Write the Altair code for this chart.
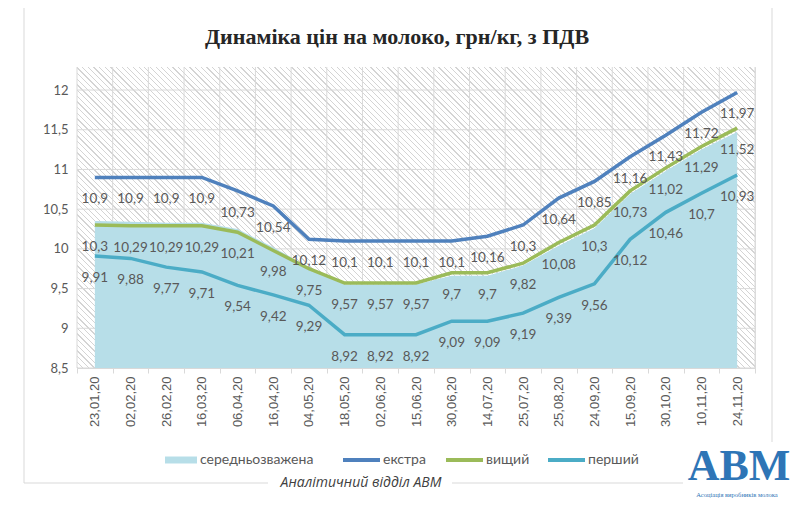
import math
import altair as alt
import pandas as pd

# ---------------- data ----------------
dates = ["23,01,20", "02,02,20", "26,02,20", "16,03,20", "06,04,20", "16,04,20",
         "04,05,20", "18,05,20", "02,06,20", "15,06,20", "30,06,20", "14,07,20",
         "25,07,20", "25,08,20", "24,09,20", "15,09,20", "30,10,20", "10,11,20",
         "24,11,20"]
avg_vals = [10.35, 10.34, 10.33, 10.33, 10.25, 10.02, 9.77, 9.55, 9.55, 9.55,
            9.66, 9.66, 9.79, 10.04, 10.26, 10.69, 10.98, 11.25, 11.47]
extra_vals = [10.9, 10.9, 10.9, 10.9, 10.73, 10.54, 10.12, 10.1, 10.1, 10.1,
              10.1, 10.16, 10.3, 10.64, 10.85, 11.16, 11.43, 11.72, 11.97]
higher_vals = [10.3, 10.29, 10.29, 10.29, 10.21, 9.98, 9.75, 9.57, 9.57, 9.57,
               9.7, 9.7, 9.82, 10.08, 10.3, 10.73, 11.02, 11.29, 11.52]
first_vals = [9.91, 9.88, 9.77, 9.71, 9.54, 9.42, 9.29, 8.92, 8.92, 8.92,
              9.09, 9.09, 9.19, 9.39, 9.56, 10.12, 10.46, 10.7, 10.93]
series_names = ["середньозважена", "екстра", "вищий", "перший"]
series_colors = ["#b7dee8", "#4f81bd", "#9bbb59", "#4bacc6"]
y_ticks = [8.5, 9, 9.5, 10, 10.5, 11, 11.5, 12]

title_text = "Динаміка цін на молоко, грн/кг, з ПДВ"
footer_text = "Аналітичний відділ АВМ"
logo_text = "АВМ"
logo_sub = "Асоціація виробників молока"

# ---------------- tables ----------------
rows = []
for name, vals in zip(series_names, [avg_vals, extra_vals, higher_vals, first_vals]):
    for d, v in zip(dates, vals):
        rows.append({"date": d, "series": name, "value": v,
                     "label": str(v).replace(".", ",")})
df = pd.DataFrame(rows)
area_df = df[df.series == series_names[0]]
line_df = df[df.series != series_names[0]]

# ---------------- layout ----------------
W, H = 678, 301
GRID = "#d9d9d9"
TXT = "#595959"

xscale = alt.Scale(type="band", paddingInner=0, paddingOuter=0)
yscale = alt.Scale(domain=[8.5, 12.29], nice=False, zero=False)
xaxis = alt.Axis(title=None, labelAngle=-90, labelFont="Liberation Sans", labelFontSize=13,
                 labelColor=TXT, domainColor=GRID, tickColor=GRID, tickSize=5,
                 tickBand="extent", grid=False, labelPadding=3, labelOverlap=False)
yaxis = alt.Axis(title=None, values=y_ticks, labelFont="Lato", labelFontSize=13,
                 labelColor=TXT, labelExpr="replace(toString(datum.value), '.', ',')",
                 ticks=False, domain=False, grid=False, labelPadding=9)

def X(band=0.5):
    return alt.X("date:O", sort=dates, scale=xscale, axis=xaxis, bandPosition=band)

def Y():
    return alt.Y("value:Q", scale=yscale, axis=yaxis, stack=None)

# hatch gradient for plot background
r = H / W
k = (1 + r) / (1 + r * r)
ext = (W + H) / math.sqrt(2)
period, lw = 4.0, 0.9
HATCH = "#d4d4d4"
stops = []
i = 0
while i * period < ext:
    o0 = round(i * period / ext, 5)
    o1 = round(min(1.0, (i * period + lw) / ext), 5)
    on = round(min(1.0, (i + 1) * period / ext), 5)
    stops += [{"offset": o0, "color": HATCH}, {"offset": o1, "color": HATCH},
              {"offset": o1, "color": "#ffffff"}, {"offset": on, "color": "#ffffff"}]
    i += 1
hatch_fill = {"gradient": "linear", "x1": 0, "y1": 1, "x2": k, "y2": 1 - k * r, "stops": stops}

one = alt.Data(values=[{}])

hatch = alt.Chart(one).mark_rect(fill=hatch_fill).encode(
    x=alt.value(0), x2=alt.value(W), y=alt.value(0), y2=alt.value(H))

hgrid = alt.Chart(pd.DataFrame({"value": y_ticks})).mark_rule(color=GRID, strokeWidth=1).encode(y=Y())
vgrid = alt.Chart(pd.DataFrame({"date": dates})).mark_rule(color=GRID, strokeWidth=1).encode(x=X(0))
redge = alt.Chart(one).mark_rule(color=GRID, strokeWidth=1).encode(
    x=alt.value(W), y=alt.value(0), y2=alt.value(H))

color = alt.Color("series:N", scale=alt.Scale(domain=series_names, range=series_colors),
                  legend=None)

area = alt.Chart(area_df).mark_area(opacity=1).encode(
    x=X(), y=Y(), y2=alt.value(H), color=color)
lines = alt.Chart(line_df).mark_line(strokeWidth=3.5).encode(
    x=X(), y=Y(), color=color, detail="series:N")
labels = alt.Chart(line_df).mark_text(font="Lato", fontSize=13.5, color=TXT, dy=22).encode(
    x=X(), y=Y(), text="label:N")

# legend (manual, bottom centre)
legend_x = [88, 266, 369, 471]
legend_y = 393
legend_layers = []
for idx, (name, col, lx) in enumerate(zip(series_names, series_colors, legend_x)):
    sw_w = 32 if idx == 0 else 37
    sw_t = 7 if idx == 0 else 4
    legend_layers.append(alt.Chart(one).mark_rule(color=col, strokeWidth=sw_t).encode(
        x=alt.value(lx), x2=alt.value(lx + sw_w), y=alt.value(legend_y)))
    legend_layers.append(alt.Chart(one).mark_text(
        font="Lato", fontSize=14, color=TXT, align="left", baseline="middle").encode(
        x=alt.value(lx + sw_w + 3), y=alt.value(legend_y), text=alt.value(name)))

# title, frame & footer
title = alt.Chart(one).mark_text(font="Liberation Serif", fontWeight="bold", fontSize=22,
                                 color="#262626", baseline="middle").encode(
    x=alt.value(320), y=alt.value(-30), text=alt.value(title_text))
frame = [
    alt.Chart(one).mark_rule(color=GRID).encode(x=alt.value(-53), x2=alt.value(695), y=alt.value(-60)),
    alt.Chart(one).mark_rule(color=GRID).encode(x=alt.value(-53), y=alt.value(-60), y2=alt.value(416)),
    alt.Chart(one).mark_rule(color=GRID).encode(x=alt.value(695), y=alt.value(-60), y2=alt.value(375)),
    alt.Chart(one).mark_rule(color=GRID).encode(x=alt.value(-53), x2=alt.value(191), y=alt.value(416)),
    alt.Chart(one).mark_rule(color=GRID).encode(x=alt.value(375), x2=alt.value(606), y=alt.value(416)),
]
footer = alt.Chart(one).mark_text(font="Open Sans", fontStyle="italic", fontSize=14,
                                  color="#404040", baseline="middle").encode(
    x=alt.value(284), y=alt.value(416), text=alt.value(footer_text))
logo = alt.Chart(one).mark_text(font="Liberation Serif", fontWeight="bold", fontSize=44,
                                color="#2e75b6", baseline="alphabetic").encode(
    x=alt.value(662), y=alt.value(413), text=alt.value(logo_text))
logo2 = alt.Chart(one).mark_text(font="Liberation Serif", fontSize=6.5,
                                 color="#2e75b6", baseline="middle").encode(
    x=alt.value(660), y=alt.value(428), text=alt.value(logo_sub))

chart = alt.layer(hatch, hgrid, vgrid, redge, area, lines, labels, *legend_layers,
                  title, *frame, footer, logo, logo2).properties(
    width=W, height=H,
    autosize=alt.AutoSizeParams(type="none"),
    padding={"left": 69, "top": 59, "right": 37, "bottom": 136},
).configure_view(stroke=None).configure(background="white")

chart.save("out.html", embed_options={"renderer": "svg", "actions": False})
